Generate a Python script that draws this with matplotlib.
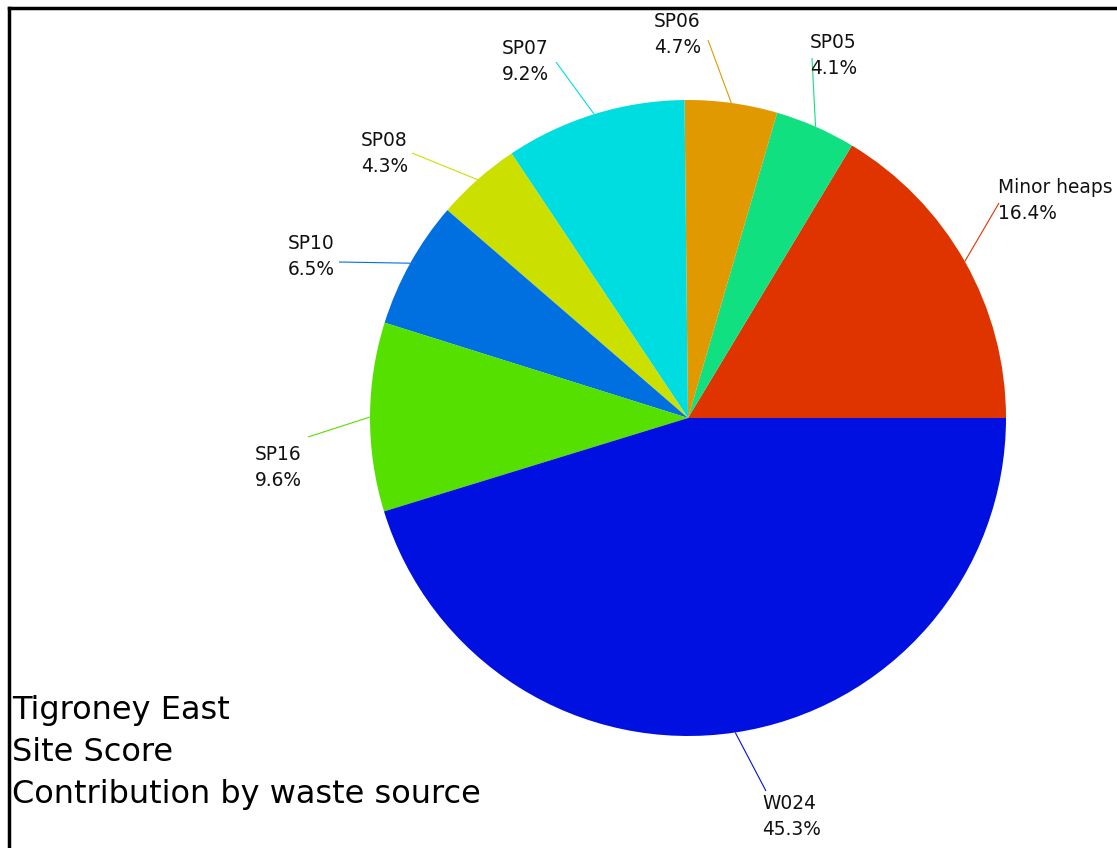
import numpy as np
import matplotlib
matplotlib.use("Agg")
import matplotlib.pyplot as plt
from matplotlib.lines import Line2D

# data (counterclockwise from 3 o'clock)
sources = ["Minor heaps", "SP05", "SP06", "SP07", "SP08", "SP10", "SP16", "W024"]
shares = [16.4, 4.1, 4.7, 9.2, 4.3, 6.5, 9.6, 45.3]
colors = ["#e03400", "#10e080", "#e09a00", "#00dde0", "#cce000", "#0070e0", "#55e000", "#0010e0"]
title_lines = ["Tigroney East", "Site Score", "Contribution by waste source"]

W, H = 1117, 848
# label layout in pixels (y measured from top): text top-left, leader end
text_pos = [(998, 178), (810, 33), (654, 12), (502, 39), (361, 131), (288, 234), (255, 445), (762, 794)]
leader_end = [(999, 203), (812, 58), (708, 40), (556, 62), (412, 153), (339, 262), (308, 437), (766, 791)]

cx, cy, r = 688, H - 418, 318

fig = plt.figure(figsize=(W / 100, H / 100), dpi=100)
ax = fig.add_axes([0, 0, 1, 1])
ax.pie(shares, colors=colors, startangle=0, counterclock=True,
       center=(cx, cy), radius=r, wedgeprops=dict(linewidth=0))
ax.set_xlim(0, W)
ax.set_ylim(0, H)
ax.set_aspect("equal")
ax.axis("off")

total = sum(shares)
cum = np.cumsum([0] + shares[:-1])
for i, name in enumerate(sources):
    mid = np.deg2rad(360 * (cum[i] + shares[i] / 2) / total)
    x0, y0 = cx + r * np.cos(mid), cy + r * np.sin(mid)
    ex, ey = leader_end[i]
    ax.plot([x0, ex], [y0, H - ey], color=colors[i], lw=0.8, solid_capstyle="butt")
    tx, ty = text_pos[i]
    ax.text(tx, H - ty, "%s\n%.1f%%" % (name, shares[i]), ha="left", va="top",
            fontsize=13.4, linespacing=1.45, color="#111111")

ax.text(12, H - 695, "\n".join(title_lines), ha="left", va="top",
        fontsize=23, linespacing=1.45, color="black")

# frame (top and left edges visible)
fig.add_artist(Line2D([9 / W, 1], [1 - 8 / H, 1 - 8 / H], color="black", lw=2.5))
fig.add_artist(Line2D([9 / W, 9 / W], [0, 1 - 8 / H], color="black", lw=2.5))

fig.savefig("out.png", dpi=100, facecolor="white")
